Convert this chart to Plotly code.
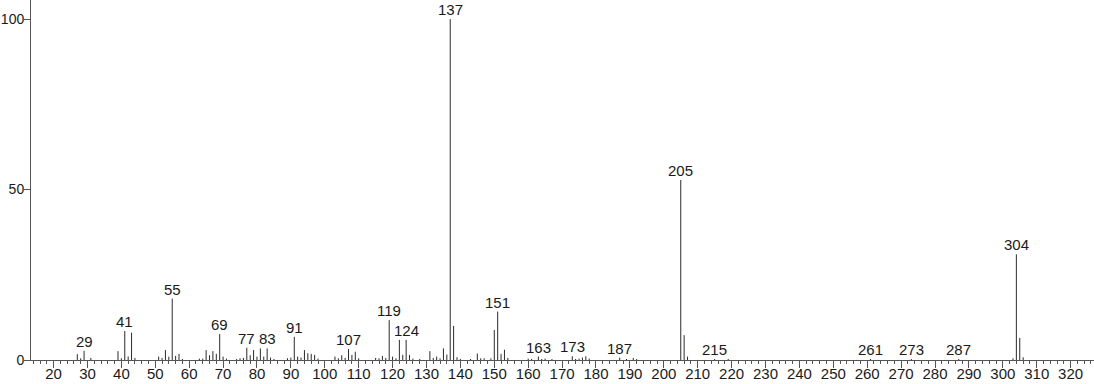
import plotly.graph_objects as go

# m/z values and relative intensities (%)
mz = [27, 28, 29, 31, 39, 40, 41, 42, 43, 44, 51, 52, 53, 54, 55, 56, 57, 58,
      63, 64, 65, 66, 67, 68, 69, 70, 71, 74, 75, 76, 77, 78, 79, 80, 81, 82, 83, 84, 85,
      89, 90, 91, 92, 93, 94, 95, 96, 97, 98, 103, 104, 105, 106, 107, 108, 109, 110,
      115, 116, 117, 118, 119, 120, 121, 122, 123, 124, 125, 126, 128, 131, 132, 133, 134,
      135, 136, 137, 138, 139, 140, 143, 145, 146, 147, 149, 150, 151, 152, 153, 154,
      160, 161, 163, 164, 165, 167, 173, 174, 175, 176, 177, 178, 187, 189, 191, 192,
      205, 206, 207, 215, 219, 261, 273, 287, 303, 304, 305, 306]
intensity = [1.7, 0.5, 2.7, 0.6, 2.6, 0.5, 8.5, 1.0, 8.0, 0.6, 1.0, 0.6, 2.9, 1.0, 18.0, 1.2, 1.8, 0.3,
             0.4, 0.4, 2.9, 1.4, 2.6, 1.8, 7.6, 1.0, 0.4, 0.3, 0.5, 0.6, 3.6, 1.4, 2.9, 1.0, 3.4, 1.0, 3.4, 0.7, 0.3,
             0.5, 0.7, 6.8, 1.0, 0.7, 2.9, 2.0, 1.8, 1.5, 0.4, 1.0, 0.5, 1.4, 0.6, 3.2, 1.5, 2.4, 0.5,
             0.6, 0.5, 1.2, 0.6, 11.7, 1.0, 0.5, 5.9, 1.5, 5.9, 1.5, 0.4, 0.3, 2.6, 0.6, 1.0, 0.5,
             3.4, 1.6, 100.0, 10.0, 0.8, 0.3, 0.3, 1.9, 0.5, 0.5, 0.5, 8.8, 14.2, 1.8, 3.0, 0.6,
             0.4, 0.3, 1.0, 0.3, 0.4, 0.3, 1.1, 0.3, 0.4, 0.7, 1.1, 0.4, 0.7, 0.3, 0.6, 0.3,
             52.8, 7.3, 1.0, 0.3, 0.3, 0.3, 0.3, 0.3, 0.5, 31.0, 6.5, 0.8]

labeled_mz = [29, 41, 55, 69, 77, 83, 91, 107, 119, 124, 137, 151, 163, 173, 187,
              205, 215, 261, 273, 287, 304]

x_ticks = list(range(20, 330, 10))
y_ticks = [0, 50, 100]

FONT = "Liberation Sans, Arial, sans-serif"

xs, ys = [], []
for m, v in zip(mz, intensity):
    xs += [m, m, None]
    ys += [0, v, None]

fig = go.Figure()
fig.add_trace(go.Scatter(x=xs, y=ys, mode="lines",
                         line=dict(color="#2b2b2b", width=1),
                         hoverinfo="skip", showlegend=False))

lookup = dict(zip(mz, intensity))
for m in labeled_mz:
    fig.add_annotation(x=m, y=lookup[m], text=str(m), showarrow=False,
                       xanchor="center", yanchor="bottom", yshift=-1,
                       font=dict(family=FONT, size=15, color="#1a1a1a"))

fig.update_layout(
    width=1094, height=384,
    margin=dict(l=31, r=0, t=0, b=24),
    paper_bgcolor="white", plot_bgcolor="white",
    showlegend=False,
    font=dict(family=FONT, size=15, color="#1a1a1a"),
)
fig.update_xaxes(range=[13.34, 326.9], tickvals=x_ticks, ticks="outside", ticklen=7,
                 tickcolor="#555555", showline=True, linecolor="#555555", linewidth=1,
                 showgrid=False, zeroline=False, automargin=False, ticklabelstandoff=-7,
                 minor=dict(dtick=2, tick0=0, ticks="outside", ticklen=3, tickcolor="#555555"),
                 tickfont=dict(family=FONT, size=15, color="#1a1a1a"))
fig.update_yaxes(range=[0, 105.6], tickvals=y_ticks, ticks="outside", ticklen=6,
                 tickcolor="#555555", showline=True, linecolor="#555555", linewidth=1,
                 showgrid=False, zeroline=False, automargin=False, ticklabelstandoff=-3,
                 tickfont=dict(family=FONT, size=14, color="#1a1a1a"))

fig.write_html("out.html")
